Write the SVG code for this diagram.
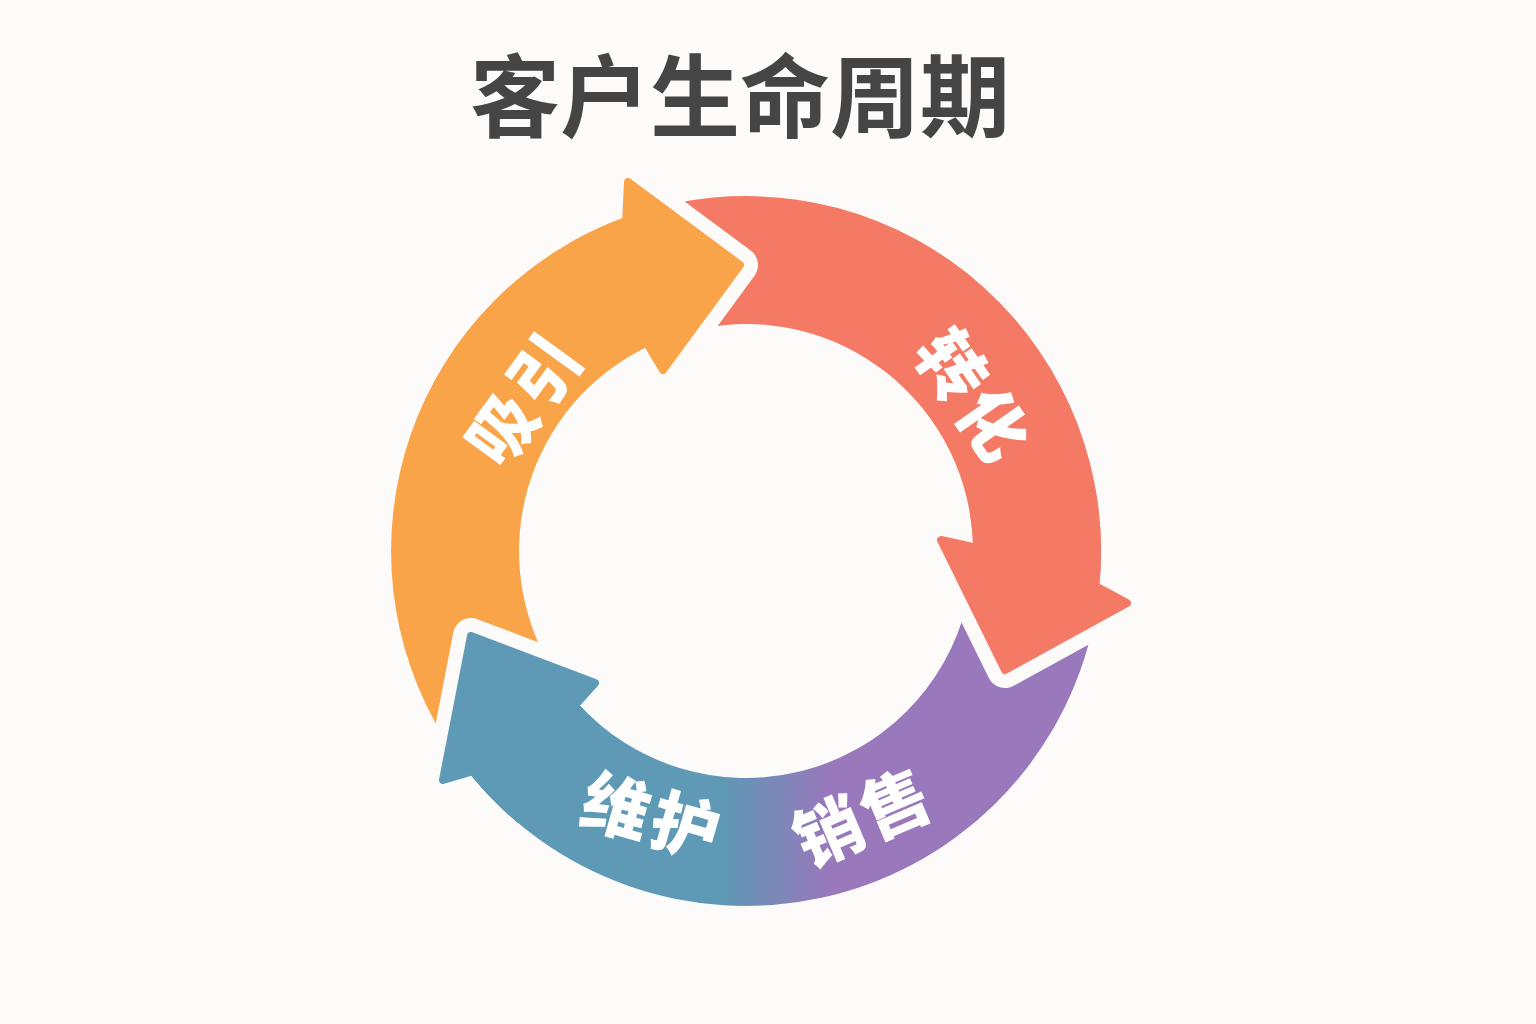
<svg xmlns="http://www.w3.org/2000/svg" width="1536" height="1024" viewBox="0 0 1536 1024">
  <defs>
    <linearGradient id="gradBP" gradientUnits="userSpaceOnUse" x1="720" y1="0" x2="830" y2="0">
      <stop offset="0" stop-color="#5E99B5"/>
      <stop offset="1" stop-color="#9978BC"/>
    </linearGradient>
    <style>
      .bg { fill: #FDFBFA; }
      .title { font-family: "Noto Sans CJK SC", "Noto Sans", sans-serif; font-size: 90px; font-weight: 700; fill: #454545; }
      .label { font-family: "Noto Sans CJK SC", "Noto Sans", sans-serif; font-size: 68px; font-weight: 900; fill: #FFFFFF; letter-spacing: 4px; }
      .orange { fill: #F9A449; }
      .red { fill: #F47A65; }
      .bp { fill: url(#gradBP); }
      .gap { fill: none; stroke: #FDFBFA; stroke-width: 36; stroke-linejoin: round; stroke-linecap: butt; }
      .head-o { fill: #F9A449; stroke: #F9A449; stroke-width: 8; stroke-linejoin: round; }
      .head-r { fill: #F47A65; stroke: #F47A65; stroke-width: 8; stroke-linejoin: round; }
      .head-b { fill: #5E99B5; stroke: #5E99B5; stroke-width: 8; stroke-linejoin: round; }
    </style>
  </defs>

  <rect class="bg" x="0" y="0" width="1536" height="1024"/>

  <text class="title" x="740" y="91" text-anchor="middle" dominant-baseline="central">客户生命周期</text>

  <g id="node-attract">
    <path class="orange" d="M 445.0 739.1 A 355 355 0 0 1 626.3 216.8 L 628 182 L 740 265 L 663 370 L 648.6 346.0 A 227 227 0 0 0 553.5 671.3 Z"/>
    <text class="label" transform="translate(521,396) rotate(-54)" text-anchor="middle" dominant-baseline="central">吸引</text>
  </g>

  <g id="node-convert">
    <path class="red" d="M 672.2 203.8 A 355 355 0 0 1 1099.1 588.1 L 1127 603 L 1005 670 L 941 540 L 973.0 547.0 A 227 227 0 0 0 698.8 329.0 Z"/>
    <text class="label" transform="translate(977,394) rotate(55)" text-anchor="middle" dominant-baseline="central">转化</text>
  </g>

  <g id="node-sales-maintain">
    <path class="bp" d="M 1090.4 636.9 A 355 355 0 0 1 468.6 772.5 L 443 780 L 471 636 L 595 683 L 577.2 702.7 A 227 227 0 0 0 966.3 605.9 Z"/>
    <text class="label" transform="translate(654,813) rotate(16)" text-anchor="middle" dominant-baseline="central">维护</text>
    <text class="label" transform="translate(862,813) rotate(-23)" text-anchor="middle" dominant-baseline="central">销售</text>
  </g>

  <g id="connectors">
    <path class="gap" d="M 626.3 216.8 L 628 182 L 740 265 L 663 370 L 648.6 346.0"/>
    <path class="orange" d="M 568.5 243.6 A 355 355 0 0 1 626.3 216.8 L 648.6 346.0 A 227 227 0 0 0 632.5 354.4 Z"/>
    <polygon class="head-o" points="626.3,216.8 628,182 740,265 663,370 648.6,346.0"/>

    <path class="gap" d="M 1099.1 588.1 L 1127 603 L 1005 670 L 941 540 L 973.0 547.0"/>
    <path class="red" d="M 1095.6 489.4 A 355 355 0 0 1 1099.1 588.1 L 973.0 547.0 A 227 227 0 0 0 969.6 511.6 Z"/>
    <polygon class="head-r" points="1099.1,588.1 1127,603 1005,670 941,540 973.0,547.0"/>

    <path class="gap" d="M 468.6 772.5 L 443 780 L 471 636 L 595 683 L 577.2 702.7"/>
    <path class="bp" d="M 517.8 822.9 A 355 355 0 0 1 468.6 772.5 L 577.2 702.7 A 227 227 0 0 0 600.1 724.9 Z"/>
    <polygon class="head-b" points="468.6,772.5 443,780 471,636 595,683 577.2,702.7"/>
  </g>
</svg>
